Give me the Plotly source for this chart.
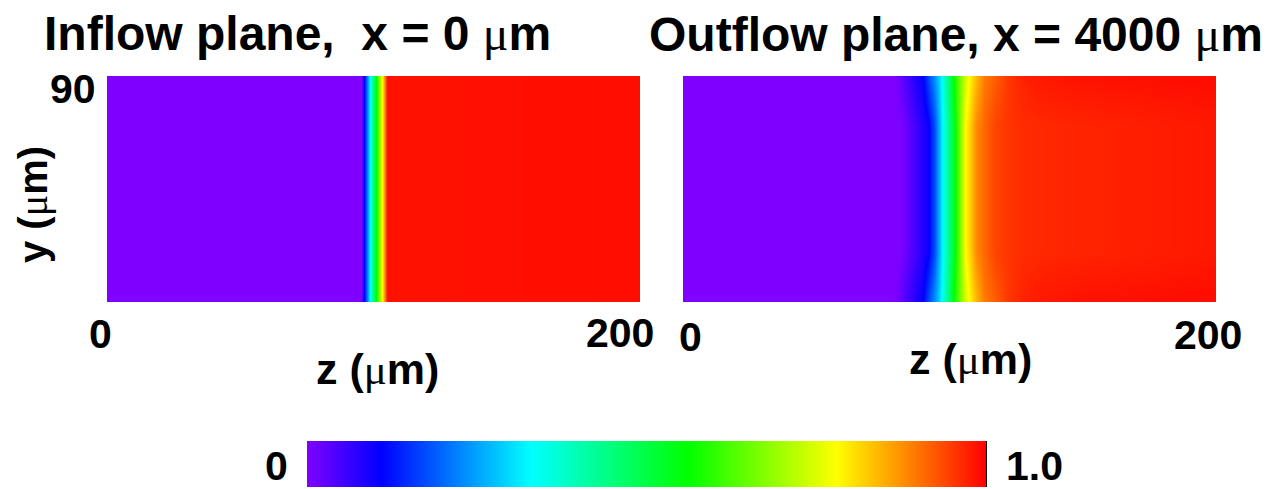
import plotly.graph_objects as go

# ---------------- data ----------------
# Inflow plane (x = 0 um): concentration across z (same for every y)
z_in = [0, 95.4, 96.4, 98.7, 100.8, 103.0, 105.1, 200]
y_in = [0, 90]
c_in_row = [0.0, 0.0, 0.11, 0.33, 0.56, 0.78, 0.985, 0.988]
c_in = [c_in_row, c_in_row]

# Outflow plane (x = 4000 um)
z_out = [0, 79, 81, 84, 87, 90, 92, 94, 96, 98, 100, 102, 104, 106, 108, 110,
         113, 117, 122, 128, 135, 150, 200]
y_out = [0, 20, 45, 70, 90]
c_out_edge = [0.0, 0.0, 0.016, 0.049, 0.080, 0.110, 0.171, 0.232, 0.293, 0.375,
              0.487, 0.587, 0.664, 0.741, 0.800, 0.839, 0.893, 0.919, 0.953,
              0.973, 0.980, 0.986, 0.990]
c_out_mid = [0.0, 0.0, 0.0, 0.021, 0.051, 0.082, 0.103, 0.171, 0.264, 0.360,
             0.460, 0.560, 0.670, 0.780, 0.831, 0.882, 0.911, 0.942, 0.955,
             0.963, 0.966, 0.969, 0.980]
c_out = [c_out_edge, c_out_mid, c_out_mid, c_out_mid, c_out_edge]

titles = ["Inflow plane,\u00a0\u00a0x = 0 ", "Outflow plane, x = 4000 "]
tick_z = ["0", "200"]
tick_y = "90"
cbar_labels = ["0", "1.0"]

colorscale = [[0.0, "#7f00ff"], [0.11, "#0000ff"], [0.33, "#00ffff"],
              [0.56, "#00ff00"], [0.78, "#ffff00"], [1.0, "#ff0000"]]

W, H = 1270, 489
def px(x):
    return x / W
def py(y):
    return 1 - y / H

MU = "<span style=\"font-family:'Liberation Serif';font-weight:normal\">\u03bc</span>"
FONT = dict(family="Liberation Sans, Arial, sans-serif", color="black", weight="bold")

fig = go.Figure()
fig.add_trace(go.Heatmap(x=z_in, y=y_in, z=c_in, coloraxis="coloraxis",
                         zsmooth="best", xaxis="x", yaxis="y"))
fig.add_trace(go.Heatmap(x=z_out, y=y_out, z=c_out, coloraxis="coloraxis",
                         zsmooth="best", xaxis="x2", yaxis="y2"))

ax_common = dict(showgrid=False, zeroline=False, showticklabels=False,
                 ticks="", showline=False, fixedrange=True)
ydom = [py(302), py(76)]
fig.update_layout(
    width=W, height=H,
    margin=dict(l=0, r=0, t=0, b=0),
    paper_bgcolor="white", plot_bgcolor="white",
    showlegend=False,
    xaxis=dict(domain=[px(107), px(640)], range=[0, 200], anchor="y", **ax_common),
    yaxis=dict(domain=ydom, range=[0, 90], anchor="x", **ax_common),
    xaxis2=dict(domain=[px(683), px(1216)], range=[0, 200], anchor="y2", **ax_common),
    yaxis2=dict(domain=ydom, range=[0, 90], anchor="x2", **ax_common),
    coloraxis=dict(
        cmin=0, cmax=1, colorscale=colorscale,
        colorbar=dict(orientation="h", x=px(646.5), xanchor="center",
                      y=py(487), yanchor="bottom",
                      lenmode="pixels", len=679,
                      thicknessmode="pixels", thickness=46,
                      outlinewidth=0, showticklabels=False, ticks="",
                      xpad=0, ypad=0),
    ),
)

ann = []
def add(text, x, y, size, xref="paper", yref="paper", xshift=0, yshift=0, angle=0):
    ann.append(dict(text=text, x=x, y=y, xref=xref, yref=yref, showarrow=False,
                    xanchor="center", yanchor="middle", xshift=xshift, yshift=yshift,
                    textangle=angle, font=dict(size=size, **FONT)))

# titles
add(titles[0] + MU + "m", px(297), py(33), 48)
add(titles[1] + MU + "m", px(956), py(35), 48)
# y tick + label
add(tick_y, px(73), 90, 41, yref="y", yshift=-13)
add("y (" + MU + "m)", px(33), py(205), 40, angle=-90)
# x ticks
add(tick_z[0], 0, py(334), 41, xref="x", xshift=-7)
add(tick_z[1], 200, py(333), 41, xref="x", xshift=-20)
add(tick_z[0], 0, py(337), 41, xref="x2", xshift=7)
add(tick_z[1], 200, py(335), 41, xref="x2", xshift=-8)
# x labels
add("z (" + MU + "m)", px(377), py(369), 43)
add("z (" + MU + "m)", px(970), py(359), 43)
# colorbar labels
add(cbar_labels[0], px(276), py(466), 41)
add(cbar_labels[1], px(1034), py(466), 41)
fig.update_layout(annotations=ann)

fig.add_shape(type="line", xref="paper", yref="paper",
              x0=px(986), x1=px(986), y0=py(487), y1=py(441),
              line=dict(color="black", width=2))

fig.write_html("out.html", config={"displayModeBar": False},
               post_script="document.body.style.margin='0';document.body.style.padding='0';")
